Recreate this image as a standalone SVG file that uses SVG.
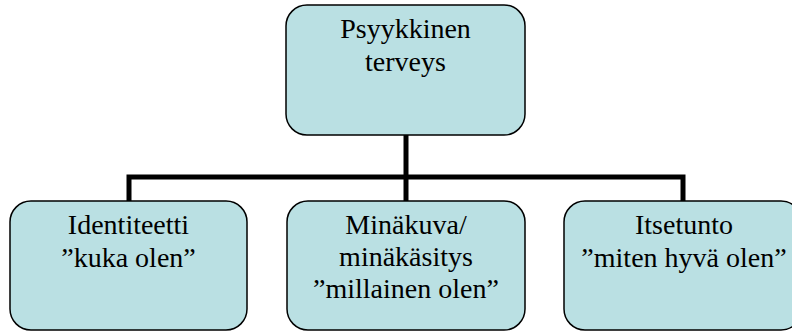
<svg xmlns="http://www.w3.org/2000/svg" width="792" height="331" viewBox="0 0 792 331">
<style>
.box{fill:#BAE0E3;stroke:#000;stroke-width:1.5}
.t{font-family:'Liberation Serif','Times New Roman','DejaVu Serif',serif;font-size:28px;fill:#000;text-anchor:middle}
.c{fill:none;stroke:#000;stroke-width:5;stroke-linejoin:miter;stroke-linecap:butt}
</style>
<rect width="792" height="331" fill="#fff"/>
<g id="connectors">
<line class="c" x1="406" y1="135" x2="406" y2="201"/>
<polyline class="c" points="129,201 129,177 683,177 683,201"/>
</g>
<g id="node-psyykkinen">
<rect class="box" x="286" y="5" width="239" height="130" rx="21" ry="21"/>
<text class="t" x="405.5" y="38">Psyykkinen</text>
<text class="t" x="405.5" y="71">terveys</text>
</g>
<g id="node-identiteetti">
<rect class="box" x="10" y="201" width="237" height="129" rx="21" ry="21"/>
<text class="t" x="128.5" y="234">Identiteetti</text>
<text class="t" x="128.5" y="267">”kuka olen”</text>
</g>
<g id="node-minakuva">
<rect class="box" x="287" y="201" width="238" height="129" rx="21" ry="21"/>
<text class="t" x="406" y="234">Minäkuva/</text>
<text class="t" x="406" y="266">minäkäsitys</text>
<text class="t" x="406" y="298">”millainen olen”</text>
</g>
<g id="node-itsetunto">
<rect class="box" x="564" y="201" width="238" height="129" rx="21" ry="21"/>
<text class="t" x="684" y="234">Itsetunto</text>
<text class="t" x="684" y="267">”miten hyvä olen”</text>
</g>
</svg>
